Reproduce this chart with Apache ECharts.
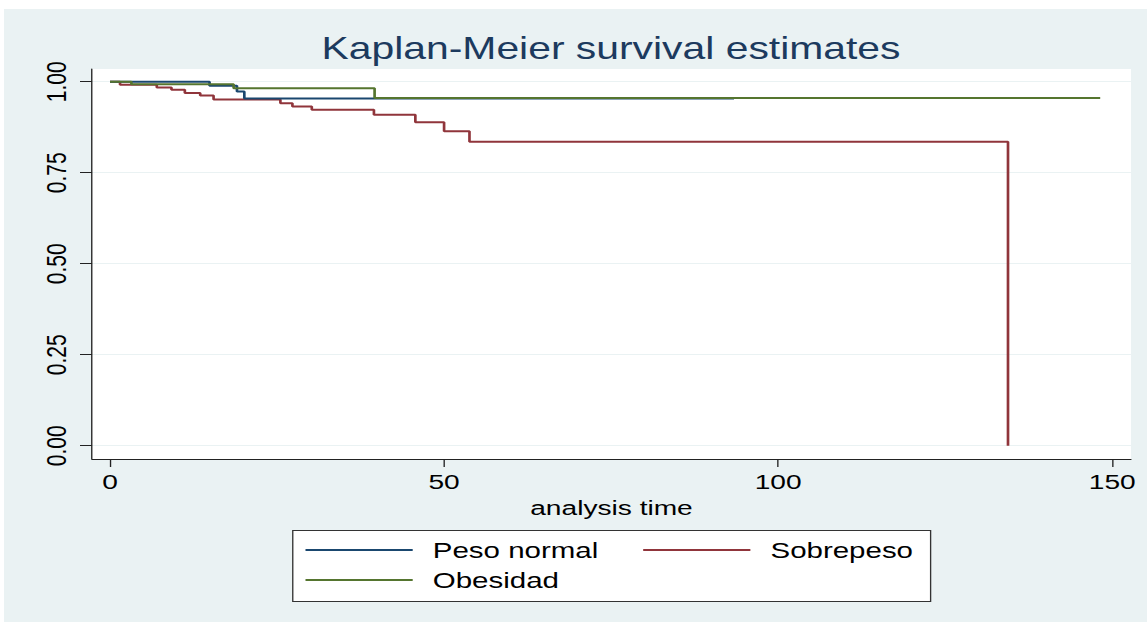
<!DOCTYPE html>
<html>
<head>
<meta charset="utf-8">
<script src="https://cdn.jsdelivr.net/npm/echarts@6/dist/echarts.min.js"></script>
<style>
html,body{margin:0;padding:0;background:#fff;width:1147px;height:622px;overflow:hidden;}
#wrap{position:absolute;left:4px;top:9px;width:853px;height:613px;transform:scaleX(1.34);transform-origin:0 0;}
</style>
</head>
<body>
<div id="wrap"></div>
<script>
// ---- data ----
const seriesNames = ['Peso normal', 'Sobrepeso', 'Obesidad'];
const pesoNormalTime = [0, 14.9, 19.0, 20.1, 93.4];
const pesoNormalSurv = [1, 0.989, 0.973, 0.954, 0.954];
const sobrepesoTime = [0, 1.5, 7.0, 9.2, 11.2, 13.5, 15.5, 25.5, 27.3, 30.2, 39.5, 45.7, 50.0, 53.8, 134.4];
const sobrepesoSurv = [1, 0.992, 0.984, 0.978, 0.969, 0.962, 0.951, 0.941, 0.932, 0.923, 0.909, 0.889, 0.864, 0.835, 0];
const obesidadTime = [0, 3.2, 18.5, 39.6, 148.2];
const obesidadSurv = [1, 0.993, 0.982, 0.955, 0.955];
const xTicks = [0, 50, 100, 150];
const yTicks = [0, 0.25, 0.5, 0.75, 1];

const pair = (t, s) => t.map((v, i) => [v, s[i]]);
const FONT = '"Liberation Sans", Arial, Helvetica, sans-serif';
const chart = echarts.init(document.getElementById('wrap'), null, {renderer: 'svg'});

const legendCommon = {
  orient: 'vertical', top: 525, itemWidth: 80, itemHeight: 2, itemGap: 8,
  icon: 'rect', selectedMode: false,
  textStyle: {fontSize: 22, color: '#000', fontFamily: FONT, padding: [0, 0, 0, 10]}
};

chart.setOption({
  animation: false,
  backgroundColor: '#eaf2f3',
  title: {
    text: 'Kaplan-Meier survival estimates',
    left: 448, top: 19, textAlign: 'center',
    textStyle: {fontSize: 30.5, fontWeight: 'normal', color: '#1c3a5e', fontFamily: FONT}
  },
  grid: {left: 65.7, right: 12, top: 60, bottom: 163, show: true, backgroundColor: '#fff', borderWidth: 0},
  graphic: [{
    type: 'rect', left: 215, top: 521, z: 1,
    shape: {width: 476, height: 71},
    style: {fill: '#fff', stroke: '#333', lineWidth: 1}
  }],
  legend: [
    Object.assign({}, legendCommon, {left: 220, data: [seriesNames[0], seriesNames[2]]}),
    Object.assign({}, legendCommon, {left: 472, data: [seriesNames[1]]})
  ],
  xAxis: {
    type: 'value', min: -2.69, max: 152.8,
    name: 'analysis time', nameLocation: 'middle', nameGap: 34,
    nameTextStyle: {fontSize: 21, color: '#000', fontFamily: FONT},
    axisLine: {show: true, onZero: false, lineStyle: {color: '#222', width: 1}},
    axisTick: {show: true, length: 8, customValues: xTicks, lineStyle: {color: '#222'}},
    axisLabel: {customValues: xTicks, fontSize: 21, color: '#000', fontFamily: FONT, margin: 12,
      formatter: v => String(v)},
    splitLine: {show: false}
  },
  yAxis: {
    type: 'value', min: -0.0365, max: 1.035,
    axisLine: {show: true, onZero: false, lineStyle: {color: '#222', width: 1}},
    axisTick: {show: true, length: 9, customValues: yTicks, lineStyle: {color: '#222'}},
    axisLabel: {customValues: yTicks, rotate: 90, fontSize: 21, color: '#000', fontFamily: FONT, margin: 16,
      formatter: v => v.toFixed(2)},
    splitLine: {show: true, lineStyle: {color: '#eaf2f3', width: 1}}
  },
  series: [
    {name: seriesNames[0], type: 'line', step: 'end', showSymbol: false, symbol: 'none', z: 3,
     color: '#1a476f', lineStyle: {width: 2, color: '#1a476f'}, data: pair(pesoNormalTime, pesoNormalSurv)},
    {name: seriesNames[1], type: 'line', step: 'end', showSymbol: false, symbol: 'none', z: 2,
     color: '#90353b', lineStyle: {width: 2, color: '#90353b'}, data: pair(sobrepesoTime, sobrepesoSurv)},
    {name: seriesNames[2], type: 'line', step: 'end', showSymbol: false, symbol: 'none', z: 4,
     color: '#55752f', lineStyle: {width: 2, color: '#55752f'}, data: pair(obesidadTime, obesidadSurv)}
  ]
});
</script>
</body>
</html>
